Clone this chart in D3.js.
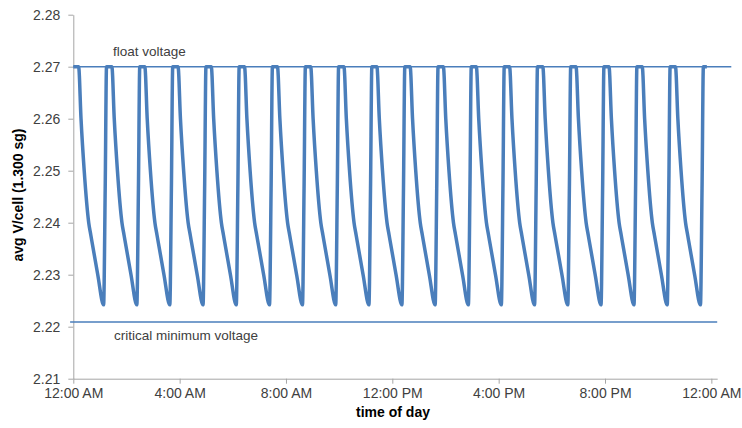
<!DOCTYPE html>
<html>
<head>
<meta charset="utf-8">
<script src="https://cdn.jsdelivr.net/npm/d3@7"></script>
<style>
  body { margin: 0; background: #fff; }
  svg { display: block; font-family: "Liberation Sans", Arial, sans-serif; }
</style>
</head>
<body>
<div id="chart"></div>
<script>
// hour at which each discharge starts
const dropStartHours = [0.20, 1.45, 2.69, 3.94, 5.19, 6.44, 7.68, 8.93, 10.18, 11.42,
  12.67, 13.92, 15.16, 16.41, 17.66, 18.91, 20.15, 21.40, 22.65];
// shape of one discharge / recharge cycle, hours after the drop starts
const cycleOffsetHours = [0, 0.09, 0.21, 0.38, 0.46, 0.72, 0.94, 1.00, 1.05, 1.18];
const cycleVolts = [2.270, 2.260, 2.250, 2.240, 2.2376, 2.230, 2.2242, 2.2466, 2.270, 2.270];
const startVolt = 2.270;

const floatVoltage = 2.270;
const criticalVoltage = 2.2209;
const yTicks = [2.21, 2.22, 2.23, 2.24, 2.25, 2.26, 2.27, 2.28];
const xTickHours = [0, 4, 8, 12, 16, 20, 24];

const width = 742;
const height = 428;
const day0 = new Date(2013, 0, 1, 0, 0, 0);
const toDate = h => new Date(day0.getTime() + h * 3600 * 1000);

// build the series from the cycle table
const series = [{ t: toDate(0), v: startVolt }];
dropStartHours.forEach(s => {
  cycleOffsetHours.forEach((o, i) => series.push({ t: toDate(s + o), v: cycleVolts[i] }));
});

const svg = d3.select("#chart")
  .append("svg")
  .attr("width", width)
  .attr("height", height);

const x = d3.scaleTime()
  .domain([toDate(0), toDate(24.22)])
  .range([73.3, 717.2]);

const y = d3.scaleLinear()
  .domain([2.21, 2.28])
  .range([378.7, 14.7]);

const axisColor = "#a6a6a6";
const textColor = "#404040";
const blue = "#4a7ebb";

// y axis
const yAxis = svg.append("g")
  .attr("transform", `translate(${x(toDate(0))},0)`)
  .call(d3.axisLeft(y).tickValues(yTicks).tickFormat(d3.format(".2f"))
    .tickSizeInner(5).tickSizeOuter(0).tickPadding(8));
yAxis.selectAll("path, line").attr("stroke", axisColor);
yAxis.selectAll("text").attr("fill", textColor).style("font-size", "14px");

// x axis
const xAxis = svg.append("g")
  .attr("transform", `translate(0,${y(2.21)})`)
  .call(d3.axisBottom(x).tickValues(xTickHours.map(toDate))
    .tickFormat(d3.timeFormat("%-I:%M %p"))
    .tickSizeInner(5).tickSizeOuter(0).tickPadding(4));
xAxis.selectAll("path, line").attr("stroke", axisColor);
xAxis.selectAll("text").attr("fill", textColor).style("font-size", "14px");

// reference lines
svg.append("line")
  .attr("x1", x(toDate(0))).attr("x2", x(toDate(24.75)))
  .attr("y1", y(floatVoltage)).attr("y2", y(floatVoltage))
  .attr("stroke", blue).attr("stroke-width", 1.5);

svg.append("line")
  .attr("x1", x(toDate(-0.12))).attr("x2", x(toDate(24.22)))
  .attr("y1", y(criticalVoltage)).attr("y2", y(criticalVoltage))
  .attr("stroke", blue).attr("stroke-width", 1.5);

// voltage curve
const line = d3.line()
  .x(d => x(d.t))
  .y(d => y(d.v))
  .curve(d3.curveMonotoneX);

svg.append("path")
  .datum(series)
  .attr("fill", "none")
  .attr("stroke", blue)
  .attr("stroke-width", 3.5)
  .attr("stroke-linejoin", "round")
  .attr("d", line);

// annotations
svg.append("text")
  .attr("x", 113).attr("y", 56)
  .attr("fill", textColor)
  .style("font-size", "13.5px")
  .text("float voltage");

svg.append("text")
  .attr("x", 114).attr("y", 340)
  .attr("fill", textColor)
  .style("font-size", "13.5px")
  .text("critical minimum voltage");

// axis titles
svg.append("text")
  .attr("x", 393).attr("y", 417)
  .attr("text-anchor", "middle")
  .attr("fill", "#000")
  .style("font-size", "14px")
  .style("font-weight", "bold")
  .text("time of day");

svg.append("text")
  .attr("transform", "translate(23,195) rotate(-90)")
  .attr("text-anchor", "middle")
  .attr("fill", "#000")
  .style("font-size", "14px")
  .style("font-weight", "bold")
  .text("avg V/cell (1.300 sg)");
</script>
</body>
</html>
